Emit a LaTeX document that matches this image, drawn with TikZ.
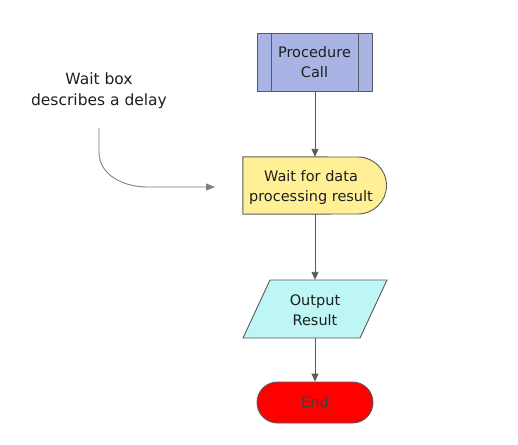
\documentclass[tikz,border=0pt]{standalone}
\usepackage{fontspec}
\setmainfont{DejaVu Sans}
\usetikzlibrary{arrows.meta,calc,shapes.misc}

\definecolor{procfill}{RGB}{170,180,228}
\definecolor{waitfill}{RGB}{255,240,150}
\definecolor{outfill}{RGB}{190,245,245}
\definecolor{edgegray}{RGB}{90,90,90}
\definecolor{textgray}{RGB}{30,30,30}

\begin{document}
\begin{tikzpicture}[x=1pt, y=-1pt, >={Triangle[width=7pt,length=8pt]},
    every node/.style={font=\fontsize{14.5}{20}\selectfont, text=textgray, align=center},
    box/.style={draw=edgegray, line width=0.9pt},
    flow/.style={->, draw=edgegray, line width=0.9pt},
    note/.style={->, draw=gray, line width=0.9pt}]
    \useasboundingbox (0,0) rectangle (518,444);

    % Procedure call
    \node[box, fill=procfill, minimum width=115, minimum height=58] (proc) at (314.5,62) {Procedure\\Call};
    \draw[edgegray, line width=0.9pt] ($(proc.north west)+(15,0)$) -- ($(proc.south west)+(15,0)$);
    \draw[edgegray, line width=0.9pt] ($(proc.north east)+(-14,0)$) -- ($(proc.south east)+(-14,0)$);

    % Wait box
    \node[minimum width=144, minimum height=57, inner sep=0pt] (wait) at (315,185.5) {};
    \draw[box, fill=waitfill] (wait.north west) -- (358,157) arc (-90:90:28.5) -- (wait.south west) -- cycle;
    \node at (311,187) {Wait for data\\processing result};

    % Output
    \node[minimum width=117, minimum height=58, inner sep=0pt] (out) at (315,309) {};
    \draw[box, fill=outfill] (270,280) -- (387,280) -- (360,338) -- (243,338) -- cycle;
    \node at (315,310) {Output\\Result};

    % End
    \node[box, fill=red, text=black!75, rounded rectangle, minimum width=116, minimum height=41, inner sep=0pt] (end) at (315,402.5) {End};

    \draw[flow] (proc.south -| wait.north) -- (wait.north);
    \draw[flow] (wait.south) -- (out.north);
    \draw[flow] (out.south) -- (end.north);

    % annotation
    \node[font=\fontsize{15.5}{21}\selectfont] (label) at (99,91) {Wait box\\describes a delay};
    \coordinate (tip) at (215,187);
    \draw[note, >={Triangle[width=7pt,length=9pt]}] (99,128) -- (99,152) to[out=-90, in=180] (147,187) -- (tip);
\end{tikzpicture}
\end{document}
